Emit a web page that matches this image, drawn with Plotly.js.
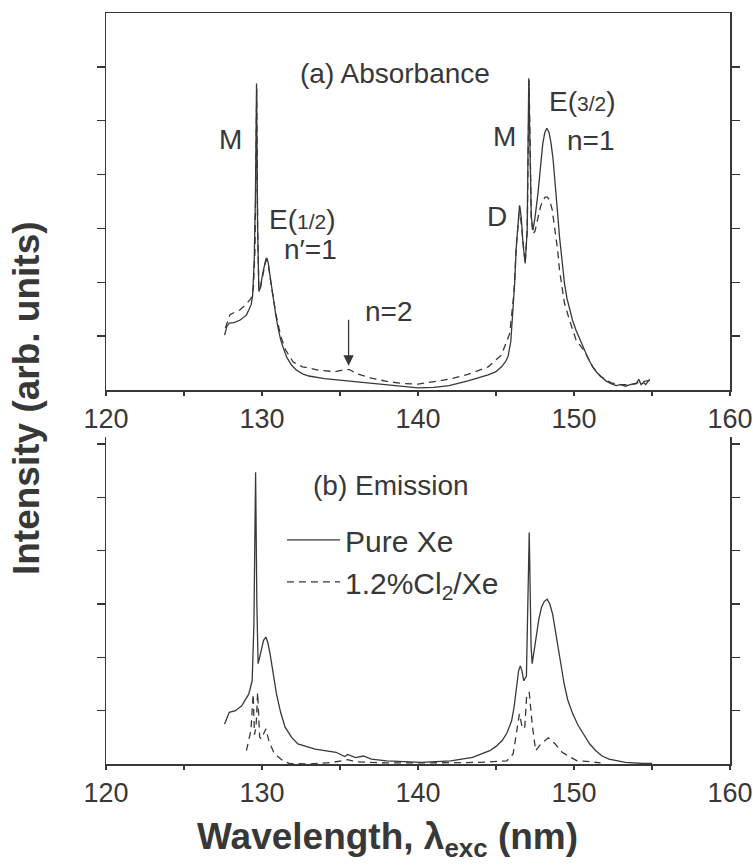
<!DOCTYPE html>
<html>
<head>
<meta charset="utf-8">
<script src="https://cdn.plot.ly/plotly-3.0.1.min.js"></script>
</head>
<body style="margin:0;padding:0;background:#fff;">
<div id="chart" style="width:753px;height:866px;"></div>
<script>
// ---------- data ----------
// (a) Absorbance, pure Xe (solid)
const absPureX = [127.6,127.75,127.9,128.2,128.6,129.0,129.3,129.4,129.5,129.58,129.65,129.72,129.8,129.9,130.05,130.15,130.25,130.32,130.4,130.5,130.6,130.75,130.9,131.05,131.2,131.4,131.6,131.9,132.2,132.6,133.0,134.0,135.0,136.0,137.0,138.0,139.0,140.0,141.0,142.0,143.2,144.5,145.0,145.35,145.6,145.77,145.95,146.09,146.2,146.3,146.42,146.51,146.62,146.73,146.87,147.0,147.1,147.18,147.26,147.37,147.5,147.69,147.85,148.0,148.13,148.26,148.4,148.53,148.66,148.79,148.93,149.07,149.23,149.39,149.55,149.71,149.9,150.13,150.4,150.67,150.93,151.2,151.45,151.73,152.05,152.37,152.7,153.0,153.3,153.6,154.0,154.15,154.3,154.45,154.6,154.85];
const absPureY = [1.02,1.18,1.24,1.25,1.30,1.39,1.58,1.75,2.4,3.6,5.69,3.0,1.83,1.9,2.17,2.32,2.43,2.45,2.36,2.15,1.93,1.62,1.36,1.12,0.93,0.75,0.6,0.46,0.37,0.3,0.26,0.21,0.18,0.15,0.12,0.09,0.06,0.04,0.05,0.08,0.17,0.28,0.34,0.43,0.52,0.62,0.9,1.42,2.0,2.66,3.2,3.43,3.2,2.72,2.35,2.97,5.79,4.0,3.22,2.97,3.2,3.65,4.15,4.58,4.78,4.86,4.78,4.58,4.28,3.9,3.35,2.85,2.38,1.98,1.7,1.49,1.3,1.11,0.92,0.74,0.57,0.43,0.33,0.25,0.17,0.12,0.08,0.1,0.07,0.1,0.12,0.2,0.1,0.14,0.1,0.2];
// (a) Absorbance, 1.2% Cl2/Xe (dashed)
const absClX = [127.65,127.8,127.95,128.3,128.6,129.0,129.3,129.45,129.55,129.6,129.66,129.72,129.8,129.9,130.05,130.2,130.3,130.42,130.57,130.9,131.2,131.5,132.0,132.6,133.6,134.7,135.2,135.6,136.1,137.0,138.0,139.0,140.0,141.0,142.0,143.2,144.5,145.35,145.88,146.15,146.3,146.51,146.73,146.87,147.0,147.12,147.26,147.37,147.5,147.7,147.85,148.0,148.15,148.3,148.45,148.6,148.8,148.95,149.07,149.23,149.39,149.71,150.13,150.67,151.2,151.7,152.4,153.0,153.6,154.2,154.85];
const absClY = [1.15,1.3,1.4,1.45,1.49,1.6,1.7,1.9,2.6,3.8,5.6,3.0,1.85,1.9,2.15,2.35,2.42,2.3,1.98,1.4,1.0,0.75,0.52,0.43,0.37,0.34,0.37,0.38,0.3,0.22,0.16,0.12,0.11,0.15,0.2,0.29,0.43,0.65,1.05,1.8,2.66,3.4,2.7,2.35,2.95,5.75,3.2,2.9,2.95,3.2,3.4,3.52,3.58,3.58,3.52,3.35,2.97,2.6,2.23,1.88,1.61,1.3,0.93,0.72,0.43,0.25,0.13,0.1,0.1,0.14,0.18];
// (b) Emission, pure Xe (solid)
const emiPureX = [127.6,127.9,128.3,128.7,129.15,129.37,129.48,129.59,129.67,129.75,129.85,129.97,130.1,130.25,130.38,130.52,130.7,130.93,131.2,131.48,131.9,132.3,133.4,134.75,135.3,135.5,136.0,136.5,137.0,138.0,140.2,142.1,143.5,144.6,145.0,145.4,145.7,146.0,146.15,146.3,146.45,146.56,146.66,146.78,146.95,147.13,147.25,147.32,147.6,147.75,147.92,148.1,148.28,148.45,148.63,148.8,148.96,149.15,149.37,149.6,149.92,150.25,150.6,151.0,151.4,151.8,152.24,153.3,154.4,155.0];
const emiPureY = [0.75,0.97,1.0,1.09,1.31,1.56,2.6,5.47,3.0,1.88,2.0,2.19,2.32,2.38,2.27,2.06,1.7,1.31,0.96,0.69,0.5,0.375,0.28,0.22,0.14,0.18,0.12,0.15,0.09,0.06,0.03,0.06,0.125,0.25,0.33,0.44,0.58,0.81,1.05,1.44,1.75,1.84,1.75,1.56,1.65,4.34,2.2,1.88,2.44,2.72,2.94,3.05,3.09,3.0,2.81,2.5,2.19,1.82,1.5,1.2,0.94,0.73,0.56,0.38,0.25,0.15,0.09,0.03,0.01,0.01];
// (b) Emission, 1.2% Cl2/Xe (dashed)
const emiClX = [129.0,129.29,129.43,129.52,129.62,129.72,129.85,129.95,130.25,130.46,130.8,131.34,131.75,133.0,134.5,135.0,135.5,136.0,137.0,138.0,140.0,142.0,144.0,145.7,146.1,146.3,146.5,146.7,146.85,146.97,147.13,147.32,147.54,147.87,148.36,148.8,149.24,149.78,150.2,150.8,151.7];
const emiClY = [0.25,0.63,1.31,0.55,0.7,1.34,0.5,0.47,0.66,0.41,0.19,0.06,0.01,0.0,0.03,0.05,0.08,0.04,0.03,0.02,0.02,0.02,0.03,0.06,0.19,0.56,0.94,0.66,0.7,1.31,1.34,0.75,0.25,0.375,0.49,0.375,0.22,0.125,0.06,0.05,0.02];

const seriesNames = ["Pure Xe", "1.2%Cl<sub>2</sub>/Xe"];
const xTickVals = [120,125,130,135,140,145,150,155,160];
const xTickText = ['120','','130','','140','','150','','160'];
const yTicksTop = [1,2,3,4,5,6];
const yTicksBot = [1,2,3,4,5,6];

// ---------- style ----------
const ink = '#383838';
const FONT = 'Liberation Sans, Arial, Helvetica, sans-serif';
const lineSolid = {color: ink, width: 1.3};
const lineDash = {color: ink, width: 1.3, dash: '7px,5px'};

const traces = [
  {x: absPureX, y: absPureY, xaxis:'x', yaxis:'y', mode:'lines', line: lineSolid, name: seriesNames[0], legendgroup:'p', showlegend:false, hoverinfo:'skip'},
  {x: absClX, y: absClY, xaxis:'x', yaxis:'y', mode:'lines', line: lineDash, name: seriesNames[1], legendgroup:'c', showlegend:false, hoverinfo:'skip'},
  {x: emiPureX, y: emiPureY, xaxis:'x2', yaxis:'y2', mode:'lines', line: lineSolid, name: seriesNames[0], legendgroup:'p', showlegend:true, hoverinfo:'skip'},
  {x: emiClX, y: emiClY, xaxis:'x2', yaxis:'y2', mode:'lines', line: lineDash, name: seriesNames[1], legendgroup:'c', showlegend:true, hoverinfo:'skip'}
];

const tickFont = {family: FONT, size: 27, color: ink};
function xMain(anchor, mirror) {
  return {
    domain:[0,1], anchor: anchor, range:[120,160], showline:true, linecolor: ink, linewidth:1.5,
    mirror: mirror, ticks:'outside', ticklen:4, tickwidth:1.5, tickcolor: ink,
    tickmode:'array', tickvals: xTickVals, ticktext: xTickText, tickfont: tickFont,
    showgrid:false, zeroline:false
  };
}
function yMain(domain, range, vals, anchor) {
  return {
    domain: domain, anchor: anchor, range: range, showline:true, linecolor: ink, linewidth:1.5,
    mirror:'ticks', ticks:'outside', ticklen:8, tickwidth:1.5, tickcolor: ink,
    tickmode:'array', tickvals: vals, showticklabels:false, showgrid:false, zeroline:false
  };
}

const annFont = {family: FONT, size: 28, color: ink};
const small = (s) => "<span style='font-size:21px'>" + s + "</span>";
const annotations = [
  {xref:'x', yref:'y', x:138.54, y:5.88, text:'(a) Absorbance'},
  {xref:'x', yref:'y', x:127.95, y:4.65, text:'M'},
  {xref:'x', yref:'y', x:132.59, y:3.16, text:'E(' + small('1/2') + ')'},
  {xref:'x', yref:'y', x:133.12, y:2.6, text:'n\u2032=1'},
  {xref:'x', yref:'y', x:138.17, y:1.45, text:'n=2'},
  {xref:'x', yref:'y', x:145.09, y:3.22, text:'D'},
  {xref:'x', yref:'y', x:145.56, y:4.70, text:'M'},
  {xref:'x', yref:'y', x:150.56, y:5.35, text:'E(' + small('3/2') + ')'},
  {xref:'x', yref:'y', x:151.09, y:4.64, text:'n=1'},
  {xref:'x', yref:'y', x:135.55, y:0.45, ax:135.55, ay:1.33, axref:'x', ayref:'y', text:'', showarrow:true,
   arrowhead:2, arrowsize:1.6, arrowwidth:1.3, arrowcolor: ink},
  {xref:'x2', yref:'y2', x:138.3, y:5.22, text:'(b) Emission'},
  {xref:'paper', yref:'paper', x:-0.127, y:0.487, textangle:-90, text:'<b>Intensity (arb. units)</b>',
   font:{family: FONT, size:37, color: ink}},
  {xref:'paper', yref:'paper', x:0.451, y:-0.1005, text:'<b>Wavelength, \u03bb<sub>exc</sub> (nm)</b>',
   font:{family: FONT, size:37, color: ink}}
].map(a => Object.assign({showarrow:false, xanchor:'center', yanchor:'middle', font: annFont}, a));

const layout = {
  width:753, height:866,
  margin:{l:106, r:23, t:13, b:102},
  paper_bgcolor:'#fff', plot_bgcolor:'#fff',
  showlegend:true,
  legend:{x:0.282, y:0.333, xanchor:'left', yanchor:'top', bgcolor:'rgba(0,0,0,0)', borderwidth:0,
          font:{family: FONT, size:30, color: ink}, itemwidth:53, tracegroupgap:0},
  xaxis: xMain('y', true),
  yaxis: yMain([0.498,1], [0,7], yTicksTop, 'x'),
  xaxis2: xMain('y2', false),
  yaxis2: yMain([0,0.4354], [0,6.13], yTicksBot, 'x2'),
  annotations: annotations
};

Plotly.newPlot('chart', traces, layout, {staticPlot:true});
</script>
</body>
</html>
